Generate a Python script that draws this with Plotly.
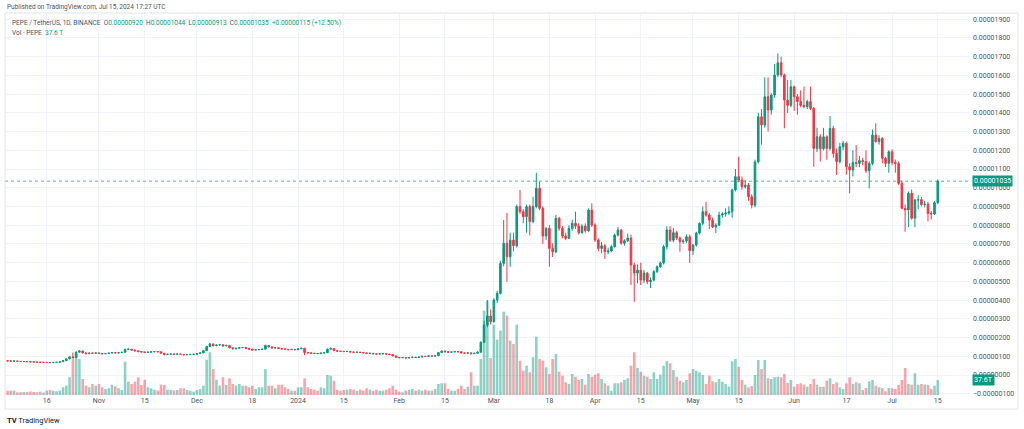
import plotly.graph_objects as go
import pandas as pd

# ---------------- data (prices stored in micro-units: value * 1e-6 USDT) ----------------
START_DATE = "2023-10-04"

opens = [
    0.76,0.75,0.74,0.75,0.73,0.72,0.72,0.71,0.70,0.69, 0.68,0.68,0.67,0.67,0.66,0.67,0.68,0.71,0.76,0.86, 0.97,0.93,1.22,1.28,1.18,1.14,1.17,1.16,1.18,1.15,
    1.13,1.15,1.17,1.20,1.18,1.19,1.21,1.36,1.38,1.33, 1.29,1.25,1.23,1.20,1.22,1.24,1.25,1.24,1.16,1.09, 1.11,1.12,1.11,1.12,1.10,1.08,1.09,1.10,1.11,1.14,
    1.18,1.30,1.52,1.66,1.56,1.60,1.62,1.55,1.58,1.45, 1.40,1.43,1.46,1.47,1.42,1.38,1.33,1.35,1.36,1.38, 1.58,1.50,1.44,1.46,1.42,1.39,1.37,1.35,1.37,1.35,
    1.40,1.43,1.20,1.18,1.16,1.15,1.14,1.17,1.19,1.38, 1.42,1.30,1.27,1.26,1.25,1.26,1.23,1.21,1.22,1.20, 1.18,1.15,1.16,1.13,1.12,1.13,1.14,1.12,1.09,1.02,
    0.94,0.92,0.93,0.91,0.93,0.95,0.93,0.96,1.00,0.99, 1.02,1.01,1.03,1.20,1.28,1.24,1.22,1.23,1.25,1.24, 1.18,1.16,1.18,1.14,1.16,1.22,1.75,2.67,3.15,2.85,
    4.00,4.36,5.96,7.03,6.32,7.21,6.90,8.99,8.72,8.45, 8.99,8.19,8.99,9.97,8.90,7.42,7.83,6.76,6.58,8.37, 7.83,7.42,7.30,7.83,8.10,7.95,7.60,7.95,7.70,8.81,
    8.01,7.21,6.76,6.90,6.58,6.62,6.85,7.47,7.74,7.04, 7.17,7.31,5.87,5.44,5.60,5.07,5.44,4.98,5.07,5.52, 5.78,5.98,6.85,7.74,7.20,7.60,7.31,7.12,7.16,7.38,
    6.64,6.94,7.58,8.10,8.72,8.54,8.27,7.90,8.00,8.54, 8.60,8.65,8.72,9.88,10.59,10.41,10.05,10.14,9.52,9.07, 11.38,13.79,13.35,14.86,14.15,14.95,16.02,16.67,16.02,14.68,
    14.40,15.39,14.86,14.60,14.40,14.33,14.60,14.24,12.10,12.72, 12.08,12.72,12.10,13.17,11.83,11.39,12.19,12.37,11.12,10.95, 11.34,11.30,11.45,11.40,10.90,11.30,12.81,12.46,12.63,11.57,
    11.30,11.92,11.35,11.30,10.23,8.90,8.81,9.70,8.37,9.34, 9.36,9.10,9.12,8.62,8.60,9.20,
]
highs = [
    0.77,0.76,0.76,0.755,0.74,0.73,0.73,0.72,0.71,0.70, 0.69,0.69,0.68,0.68,0.68,0.69,0.72,0.78,0.88,0.99, 1.20,1.26,1.34,1.30,1.20,1.19,1.20,1.20,1.19,1.17,
    1.17,1.19,1.23,1.22,1.21,1.23,1.42,1.42,1.39,1.35, 1.31,1.28,1.25,1.24,1.26,1.27,1.27,1.25,1.17,1.13, 1.14,1.13,1.14,1.13,1.11,1.10,1.11,1.12,1.15,1.19,
    1.32,1.56,1.72,1.68,1.63,1.66,1.64,1.61,1.59,1.47, 1.45,1.48,1.49,1.48,1.43,1.40,1.37,1.38,1.40,1.62, 1.60,1.52,1.48,1.47,1.44,1.41,1.38,1.39,1.38,1.42,
    1.45,1.44,1.23,1.20,1.18,1.17,1.19,1.21,1.41,1.47, 1.43,1.31,1.29,1.28,1.29,1.27,1.24,1.24,1.23,1.21, 1.19,1.18,1.17,1.14,1.15,1.16,1.15,1.13,1.10,1.03,
    0.95,0.95,0.94,0.94,0.97,0.96,0.98,1.02,1.01,1.04, 1.03,1.05,1.23,1.32,1.30,1.26,1.25,1.27,1.27,1.25, 1.19,1.20,1.22,1.18,1.26,1.80,2.90,4.00,3.50,4.10,
    4.50,6.10,8.28,8.65,7.60,7.60,9.10,9.88,8.85,9.10, 9.10,9.52,10.80,10.32,9.00,7.90,8.00,7.03,8.55,8.45, 7.95,7.60,8.00,8.30,8.72,8.10,8.05,8.10,8.90,9.17,
    8.10,7.30,7.10,7.00,6.80,6.95,7.55,7.90,7.80,7.25, 7.55,7.50,6.00,5.90,6.00,5.60,5.50,5.20,5.60,5.85, 6.05,6.95,7.95,7.95,7.85,7.70,7.40,7.25,7.50,7.50,
    7.00,7.65,8.15,9.00,9.25,8.65,8.40,8.10,8.72,8.70, 8.90,9.00,9.95,11.00,11.66,10.60,10.40,10.25,9.65,11.50, 14.00,14.20,15.90,15.90,15.05,16.60,17.18,17.00,16.10,15.75,
    15.75,15.45,15.00,15.20,15.40,14.70,15.40,14.30,13.20,12.85, 13.20,12.80,13.83,13.30,12.10,12.40,12.50,12.45,11.30,12.00, 12.28,11.70,11.60,12.00,11.40,13.10,13.44,12.80,12.70,11.65,
    12.00,12.05,11.50,11.40,10.40,9.10,9.80,9.90,9.40,9.60, 9.50,9.30,9.25,8.75,9.30,10.44,
]
lows = [
    0.74,0.73,0.73,0.72,0.71,0.71,0.70,0.69,0.68,0.67, 0.67,0.66,0.66,0.65,0.65,0.66,0.67,0.70,0.75,0.84, 0.90,0.92,1.18,1.14,1.10,1.12,1.13,1.14,1.12,1.11,
    1.12,1.14,1.16,1.16,1.16,1.18,1.20,1.32,1.30,1.27, 1.22,1.21,1.17,1.19,1.21,1.22,1.22,1.14,1.05,1.08, 1.10,1.09,1.10,1.08,1.06,1.07,1.08,1.09,1.10,1.13,
    1.17,1.28,1.50,1.52,1.54,1.58,1.52,1.54,1.42,1.37, 1.38,1.41,1.44,1.40,1.36,1.31,1.32,1.33,1.34,1.37, 1.47,1.42,1.42,1.40,1.37,1.35,1.33,1.34,1.33,1.34,
    1.39,1.05,1.15,1.14,1.12,1.12,1.13,1.16,1.18,1.36, 1.28,1.25,1.24,1.23,1.24,1.21,1.19,1.20,1.18,1.16, 1.13,1.14,1.11,1.10,1.11,1.12,1.10,1.07,1.00,0.93,
    0.90,0.91,0.89,0.90,0.92,0.91,0.92,0.95,0.97,0.98, 0.99,1.00,1.02,1.18,1.21,1.19,1.20,1.22,1.22,1.16, 1.14,1.15,1.10,1.13,1.15,1.20,1.70,2.55,2.70,2.80,
    3.85,4.30,5.80,4.98,5.78,6.60,6.80,8.60,8.10,7.60, 7.45,8.10,8.90,8.80,7.00,7.20,5.78,6.30,6.50,7.70, 7.30,7.20,7.25,7.70,7.80,7.50,7.55,7.60,7.65,7.90,
    7.10,6.60,6.50,6.20,6.45,6.55,6.80,7.40,6.95,6.90, 7.10,4.80,3.91,4.90,4.80,4.90,4.85,4.64,5.00,5.45, 5.70,5.90,6.70,7.10,7.10,7.20,6.58,7.00,7.05,5.98,
    6.40,6.85,7.50,8.00,8.45,7.80,7.85,7.58,7.95,8.40, 8.45,8.55,8.40,9.80,10.30,9.90,9.95,9.30,8.90,8.95, 11.30,12.30,13.20,13.00,13.90,14.80,15.90,15.90,13.17,13.99,
    14.30,14.10,13.90,14.30,14.25,14.20,14.15,11.12,11.90,11.40, 12.00,11.50,12.00,11.60,10.68,11.30,12.00,10.70,9.70,10.60, 11.10,11.10,11.20,10.80,9.97,11.20,12.40,12.30,11.30,11.10,
    10.80,11.20,10.80,10.15,8.85,7.65,7.90,8.30,7.90,8.85, 9.00,8.95,8.20,8.30,8.55,9.13,
]
closes = [
    0.75,0.74,0.75,0.73,0.72,0.72,0.71,0.70,0.69,0.68, 0.68,0.67,0.67,0.66,0.67,0.68,0.71,0.76,0.86,0.97, 0.93,1.22,1.28,1.18,1.14,1.17,1.16,1.18,1.15,1.13,
    1.15,1.17,1.20,1.18,1.19,1.21,1.36,1.38,1.33,1.29, 1.25,1.23,1.20,1.22,1.24,1.25,1.24,1.16,1.09,1.11, 1.12,1.11,1.12,1.10,1.08,1.09,1.10,1.11,1.14,1.18,
    1.30,1.52,1.66,1.56,1.60,1.62,1.55,1.58,1.45,1.40, 1.43,1.46,1.47,1.42,1.38,1.33,1.35,1.36,1.38,1.58, 1.50,1.44,1.46,1.42,1.39,1.37,1.35,1.37,1.35,1.40,
    1.43,1.20,1.18,1.16,1.15,1.14,1.17,1.19,1.38,1.42, 1.30,1.27,1.26,1.25,1.26,1.23,1.21,1.22,1.20,1.18, 1.15,1.16,1.13,1.12,1.13,1.14,1.12,1.09,1.02,0.94,
    0.92,0.93,0.91,0.93,0.95,0.93,0.96,1.00,0.99,1.02, 1.01,1.03,1.20,1.28,1.24,1.22,1.23,1.25,1.24,1.18, 1.16,1.18,1.14,1.16,1.22,1.75,2.67,3.15,2.85,4.00,
    4.36,5.96,7.03,6.32,7.21,6.90,8.99,8.72,8.45,8.99, 8.19,8.99,9.97,8.90,7.42,7.83,6.76,6.58,8.37,7.83, 7.42,7.30,7.83,8.10,7.95,7.60,7.95,7.70,8.81,8.01,
    7.21,6.76,6.90,6.58,6.62,6.85,7.47,7.74,7.04,7.17, 7.31,5.87,5.44,5.60,5.07,5.44,4.98,5.07,5.52,5.78, 5.98,6.85,7.74,7.20,7.60,7.31,7.12,7.16,7.38,6.64,
    6.94,7.58,8.10,8.72,8.54,8.27,7.90,8.00,8.54,8.60, 8.65,8.72,9.88,10.59,10.41,10.05,10.14,9.52,9.07,11.38, 13.79,13.35,14.86,14.15,14.95,16.02,16.67,16.02,14.68,14.40,
    15.39,14.86,14.60,14.40,14.33,14.60,14.24,12.10,12.72,12.08, 12.72,12.10,13.17,11.83,11.39,12.19,12.37,11.12,10.95,11.34, 11.30,11.45,11.40,10.90,11.30,12.81,12.46,12.63,11.57,11.30,
    11.92,11.35,11.30,10.23,8.90,8.81,9.70,8.37,9.34,9.36, 9.10,9.12,8.62,8.60,9.20,10.35,
]
# volume in trillions of PEPE
volumes = [
    10.8,10.8,10.8,6.8,6.8,7.5,7.5,8.8,7.5,6.8, 8.3,6.3,11.3,12.5,10.8,9.3,11.3,19.3,23.3,44.3, 91.8,102.5,90,40,23.3,19.3,27.5,23.3,27.5,19.3,
    15,16.8,25.8,21.8,16.8,12.5,83.3,33.3,27.5,33.3, 44.3,25,38.3,19.3,16.8,13.3,11.3,25.8,25,13.3, 12.5,11.3,12.5,16.8,16.8,12.5,10.8,8.3,12.5,15,
    23.3,88.3,106.8,65,38.3,23.3,44.3,25,41.8,27.5, 23.3,27.5,23.3,23.3,19.3,23.3,15,19.3,19.3,65, 23.3,23.3,16.8,25.8,25.8,19.3,15,10.8,10.8,19.3,
    19.3,41.8,19.3,15,13.3,10.8,19.3,16.8,50,48.3, 35.8,13.3,10.8,12.5,13.3,15,13.3,10.8,13.3,10.8, 16.8,13.3,10.8,13.3,10.8,10.8,13.3,16.8,23.3,13.3,
    8.3,6.8,10.8,13.3,15,10.8,13.3,10.8,13.3,10.8, 10.8,15,27.5,29.3,29.3,15,10.8,10.8,15,23.3, 15,20.8,56.8,23.3,23.3,90,210.8,235.8,92.5,175.8,
    138.3,160.8,208.3,198.3,135.8,127.5,175.8,85.8,60.8,73.3, 56.8,94.3,145.8,90,85.8,69.3,52.5,90,102.5,58.3, 48.3,31.8,27.5,52.5,45.8,37.5,40,25.8,52.5,45.8,
    50.8,54.3,40,29.3,23.3,10.8,29.3,29.3,31.8,37.5, 41.8,73.3,106.8,67.5,58.3,48.3,45.8,40,56.8,40, 50.8,73.3,84.3,79.3,62.5,45.8,35.8,31.8,37.5,54.3,
    65,60.8,56.8,50,27.5,48.3,34.3,31.8,40,33.3, 27.5,20.8,84.3,90,70.8,37.5,25.8,19.3,22.5,50, 87.5,65,87.5,41.8,40,44.3,45.8,44.3,52.5,30,
    37.5,20.8,27.5,29.3,25.8,20.8,27.5,40,25.8,20.8, 20.8,35.8,41.8,27.5,31.8,19.3,15,29.3,44.3,27.5, 31.8,29.3,12.5,17.5,34.3,37.5,23.3,19.3,17.5,9.3,
    17.5,16.8,15,25,37.5,67.5,27.5,25.8,54.3,25.8, 27.5,25.8,25,15,23.3,37.6,
]

price_ticks = [-1, 0, 1, 2, 3, 4, 5, 6, 7, 8, 9, 10, 11, 12, 13, 14, 15, 16, 17, 18, 19]  # x 1e-6
date_tick_vals = ["2023-10-16", "2023-11-01", "2023-11-15", "2023-12-01", "2023-12-18",
                  "2024-01-01", "2024-01-15", "2024-02-01", "2024-02-15", "2024-03-01",
                  "2024-03-18", "2024-04-01", "2024-04-15", "2024-05-01", "2024-05-15",
                  "2024-06-01", "2024-06-17", "2024-07-01", "2024-07-15"]
date_tick_text = ["16", "Nov", "15", "Dec", "18", "2024", "15", "Feb", "15", "Mar",
                  "18", "Apr", "15", "May", "15", "Jun", "17", "Jul", "15"]

# ---------------- styling ----------------
UP = "#089981"
DOWN = "#F23645"
UP_VOL = "rgba(8,153,129,0.45)"
DOWN_VOL = "rgba(242,54,69,0.45)"
GRID = "#f0f3fa"
TXT = "#50535e"
FONT = "Roboto, Arial, sans-serif"
UNIT = 1e-6

W, H = 1024, 429
L, R, T, B = 5, 54, 13, 34
PW, PH = W - L - R, H - T - B

def px(x):
    return (x - L) / PW

def py(y):
    return (H - B - y) / PH

dates = pd.date_range(START_DATE, periods=len(closes), freq="D")
o = [v * UNIT for v in opens]
h = [v * UNIT for v in highs]
l = [v * UNIT for v in lows]
c = [v * UNIT for v in closes]
vol_colors = [UP_VOL if cc >= oo else DOWN_VOL for oo, cc in zip(opens, closes)]

fig = go.Figure()
fig.add_trace(go.Bar(x=dates, y=volumes, marker=dict(color=vol_colors, line=dict(width=0)),
                     yaxis="y", hoverinfo="skip", showlegend=False))
fig.add_trace(go.Candlestick(x=dates, open=o, high=h, low=l, close=c, yaxis="y2",
                             increasing=dict(line=dict(color=UP, width=1), fillcolor=UP),
                             decreasing=dict(line=dict(color=DOWN, width=1), fillcolor=DOWN),
                             whiskerwidth=0, hoverinfo="skip", showlegend=False))

y_lo, y_hi = -1.068 * UNIT, 19.33 * UNIT

def fmt(v):
    s = f"{abs(v) * UNIT:.8f}"
    return ("\u2212" + s) if v < 0 else s

fig.update_layout(
    width=W, height=H, margin=dict(l=L, r=R, t=T, b=B, autoexpand=False),
    paper_bgcolor="white", plot_bgcolor="white",
    bargap=0.2, showlegend=False,
    font=dict(family=FONT, size=7, color=TXT),
    xaxis=dict(type="date", range=["2023-10-03 05:00", "2024-07-24 21:00"],
               tickvals=date_tick_vals, ticktext=date_tick_text, automargin=False,
               showgrid=True, gridcolor=GRID, gridwidth=1, zeroline=False, showline=False,
               ticks="", tickfont=dict(size=7, color=TXT), rangeslider=dict(visible=False)),
    yaxis=dict(range=[0, 955], visible=False, showgrid=False, zeroline=False, automargin=False),
    yaxis2=dict(overlaying="y", side="right", range=[y_lo, y_hi], automargin=False,
                tickvals=[v * UNIT for v in price_ticks], ticktext=[fmt(v) for v in price_ticks],
                showgrid=True, gridcolor=GRID, zeroline=False, showline=False, ticks="",
                tickfont=dict(size=7, color=TXT), ticklabelstandoff=2),
)

last_close = c[-1]
shapes = [
    dict(type="line", xref="paper", x0=0, x1=1, yref="y2", y0=last_close, y1=last_close,
         line=dict(color="rgba(8,153,129,0.7)", width=1, dash="dot")),
    dict(type="rect", xref="paper", yref="paper", x0=0, x1=px(1018), y0=py(409), y1=py(13),
         line=dict(color="#e0e3eb", width=1), fillcolor="rgba(0,0,0,0)", layer="above"),
]
fig.update_layout(shapes=shapes)

annotations = [
    dict(xref="paper", yref="y2", x=1, y=last_close, xanchor="left", yanchor="middle",
         text=f"{closes[-1] * UNIT:.8f}", showarrow=False, bgcolor=UP, borderpad=1, xshift=2,
         font=dict(color="white", size=7, family=FONT)),
    dict(xref="paper", yref="y", x=1, y=volumes[-1], xanchor="left", yanchor="middle",
         text=f"{volumes[-1]}T", showarrow=False, bgcolor=UP, borderpad=1, xshift=2,
         font=dict(color="white", size=7, family=FONT)),
    dict(xref="paper", yref="paper", x=px(5), y=py(7), xanchor="left", yanchor="middle",
         text="Published on TradingView.com, Jul 15, 2024 17:27 UTC", showarrow=False,
         font=dict(color=TXT, size=6.5, family=FONT)),
    dict(xref="paper", yref="paper", x=px(10), y=py(23), xanchor="left", yanchor="middle",
         text=("PEPE / TetherUS, 1D, BINANCE  "
               f"O<span style='color:{UP}'>{opens[-1] * UNIT:.8f}</span>  "
               f"H<span style='color:{UP}'>{highs[-1] * UNIT:.8f}</span>  "
               f"L<span style='color:{UP}'>{lows[-1] * UNIT:.8f}</span>  "
               f"C<span style='color:{UP}'>{closes[-1] * UNIT:.8f}</span>  "
               f"<span style='color:{UP}'>+{(closes[-1] - opens[-1]) * UNIT:.8f} (+12.50%)</span>"),
         showarrow=False, font=dict(color=TXT, size=6.5, family=FONT)),
    dict(xref="paper", yref="paper", x=px(10), y=py(33), xanchor="left", yanchor="middle",
         text=f"Vol \u00b7 PEPE  <span style='color:{UP}'>{volumes[-1]} T</span>",
         showarrow=False, font=dict(color=TXT, size=6.5, family=FONT)),
    dict(xref="paper", yref="paper", x=px(5), y=py(420), xanchor="left", yanchor="middle",
         text="<b>TV</b> TradingView", showarrow=False,
         font=dict(color="#131722", size=7.5, family=FONT)),
]
fig.update_layout(annotations=annotations)

fig.write_html("out.html", config={"displayModeBar": False, "staticPlot": True},
               post_script="document.body.style.margin='0';document.body.style.overflow='hidden';")
